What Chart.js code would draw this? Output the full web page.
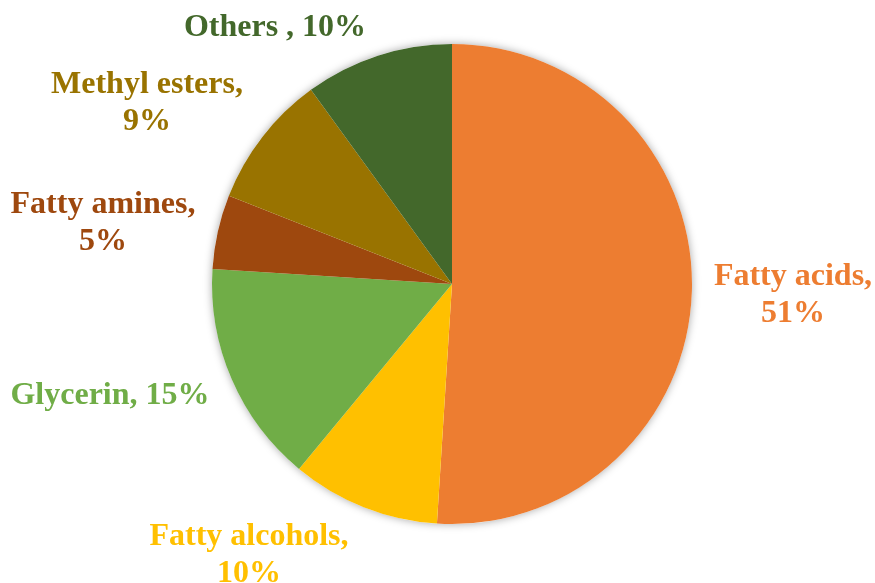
<!DOCTYPE html>
<html>
<head>
<meta charset="utf-8">
<script src="https://cdn.jsdelivr.net/npm/chart.js@4.4.1/dist/chart.umd.min.js"></script>
<style>
  html, body { margin: 0; padding: 0; background: #fff; }
  #wrap { width: 875px; height: 583px; position: relative; }
</style>
</head>
<body>
<div id="wrap"><canvas id="pieChart" width="875" height="583"></canvas></div>
<script>
// Product shares, clockwise from 12 o'clock
const categories = ["Fatty acids", "Fatty alcohols", "Glycerin", "Fatty amines", "Methyl esters", "Others"];
const shares = [51, 10, 15, 5, 9, 10];
const sliceColors = ["#ED7D31", "#FFC000", "#70AD47", "#9E480E", "#997300", "#43682B"];

// Label text lines (category, value) and where each block sits, relative to the pie centre
const labelLines = [
  ["Fatty acids,", "51%"],
  ["Fatty alcohols,", "10%"],
  ["Glycerin, 15%"],
  ["Fatty amines,", "5%"],
  ["Methyl esters,", "9%"],
  ["Others , 10%"]
];
const labelOffsets = [
  [341, 1], [-203, 261], [-342, 120], [-349, -71], [-305, -191], [-177, -248]
];

// soft grey halo behind the pie
const pieShadow = {
  id: "pieShadow",
  beforeDatasetsDraw(chart) {
    const arc = chart.getDatasetMeta(0).data[0];
    if (!arc) return;
    const ctx = chart.ctx;
    ctx.save();
    ctx.shadowColor = "rgba(0,0,0,0.35)";
    ctx.shadowBlur = 9;
    ctx.fillStyle = "#fff";
    ctx.beginPath();
    ctx.arc(arc.x, arc.y, arc.outerRadius, 0, Math.PI * 2);
    ctx.fill();
    ctx.restore();
  }
};

// category labels outside the slices
const outsideLabels = {
  id: "outsideLabels",
  afterDatasetsDraw(chart) {
    const arc = chart.getDatasetMeta(0).data[0];
    if (!arc) return;
    const ctx = chart.ctx;
    ctx.save();
    ctx.font = "bold 32px 'Liberation Serif', 'Times New Roman', serif";
    ctx.textAlign = "center";
    ctx.textBaseline = "alphabetic";
    labelLines.forEach((lines, i) => {
      const value = shares[i];
      ctx.fillStyle = sliceColors[i];
      const x = arc.x + labelOffsets[i][0];
      const y = arc.y + labelOffsets[i][1];
      lines.forEach((line, j) => {
        ctx.fillText(line, x, y + j * 37);
      });
    });
    ctx.restore();
  }
};

new Chart(document.getElementById("pieChart"), {
  type: "pie",
  data: {
    labels: categories,
    datasets: [{
      data: shares,
      backgroundColor: sliceColors,
      borderWidth: 0
    }]
  },
  options: {
    responsive: false,
    animation: false,
    layout: { padding: { left: 212, right: 183, top: 44, bottom: 59 } },
    plugins: {
      legend: { display: false },
      tooltip: { enabled: false }
    }
  },
  plugins: [pieShadow, outsideLabels]
});
</script>
</body>
</html>
